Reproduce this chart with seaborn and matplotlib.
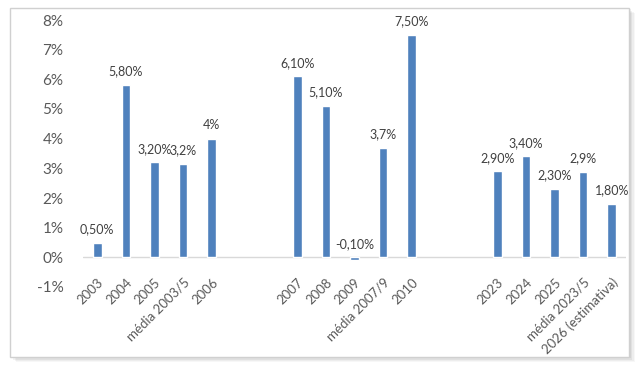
import numpy as np
import pandas as pd
import seaborn as sns
import matplotlib.pyplot as plt
from matplotlib.patches import Rectangle

# -------------------------------------------------
# Data
# -------------------------------------------------
categories = ["2003", "2004", "2005", "média 2003/5", "2006",
              "2007", "2008", "2009", "média 2007/9", "2010",
              "2023", "2024", "2025", "média 2023/5", "2026 (estimativa)"]
values = [0.5, 5.8, 3.2, 3.15, 4.0,
          6.1, 5.1, -0.1, 3.7, 7.5,
          2.9, 3.4, 2.3, 2.87, 1.8]
value_labels = ["0,50%", "5,80%", "3,20%", "3,2%", "4%",
                "6,10%", "5,10%", "-0,10%", "3,7%", "7,50%",
                "2,90%", "3,40%", "2,30%", "2,9%", "1,80%"]
y_ticks = [-1, 0, 1, 2, 3, 4, 5, 6, 7, 8]

# empty slots between the three periods
order = (categories[:5] + [" ", "  "] + categories[5:10]
         + ["   ", "    "] + categories[10:])

df = pd.DataFrame({"cat": categories, "val": values})

sns.set_style("white")
plt.rcParams["font.family"] = ["Lato", "DejaVu Sans"]

fig = plt.figure(figsize=(6.38, 3.66), dpi=100)

# outer frame with soft shadow
for i, a in enumerate([0.06, 0.05, 0.04, 0.03]):
    off = (i + 1) * 0.0012
    fig.patches.append(Rectangle((10 / 638 + off * 2, 9 / 366 - off * 3),
                                 619 / 638, 349 / 366, transform=fig.transFigure,
                                 facecolor="black", alpha=a, edgecolor="none", zorder=0))
fig.patches.append(Rectangle((10 / 638, 9 / 366), 619 / 638, 349 / 366,
                             transform=fig.transFigure, facecolor="white",
                             edgecolor="#d0d0d0", linewidth=1, zorder=1))

ax = fig.add_axes([83 / 638, 1 - 287 / 366, 543 / 638, 267 / 366])
ax.set_facecolor("none")
ax.set_zorder(2)

sns.barplot(data=df, x="cat", y="val", order=order, color="#4F81BD",
            width=0.3, saturation=1, ax=ax)

ax.set_xlim(-0.5, len(order) - 0.5)
ax.set_ylim(-1, 8)
ax.set_yticks(y_ticks)
ax.set_yticklabels([f"{t}%" for t in y_ticks], fontsize=11, color="#595959")
ax.tick_params(axis="y", length=0, pad=14)
ax.tick_params(axis="x", length=0, pad=-8)
plt.setp(ax.get_xticklabels(), rotation=45, ha="right", rotation_mode="anchor",
         fontsize=9.5, color="#595959")
ax.set_xlabel("")
ax.set_ylabel("")
for s in ax.spines.values():
    s.set_visible(False)
ax.axhline(0, color="#d9d9d9", linewidth=1, zorder=0)

for cat, v, lab in zip(categories, values, value_labels):
    x = order.index(cat)
    ax.annotate(lab, xy=(x, max(v, 0)), xytext=(0, 5.5), textcoords="offset points",
                ha="center", va="bottom", fontsize=9, color="#404040")

fig.savefig("out.png", dpi=100)
